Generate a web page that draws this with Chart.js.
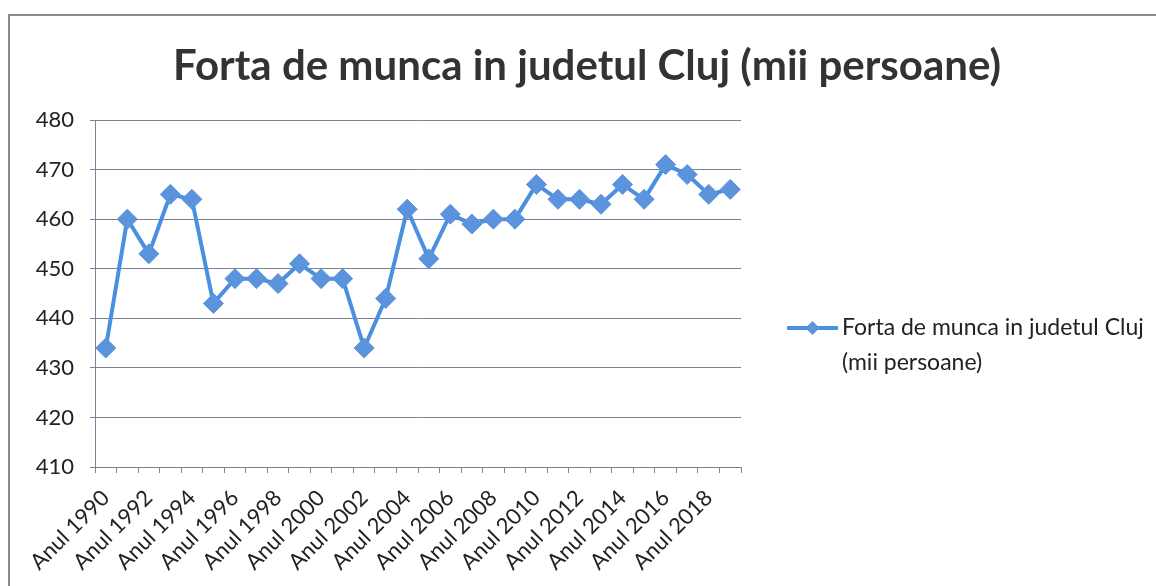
<!DOCTYPE html>
<html>
<head>
<meta charset="utf-8">
<script src="https://cdn.jsdelivr.net/npm/chart.js@4.4.1/dist/chart.umd.min.js"></script>
<style>
  body { margin: 0; background: #fff; }
  #wrap { position: relative; width: 1156px; height: 586px; }
  #frame { position: absolute; left: 8px; top: 14px; right: 0; bottom: 0;
           border-left: 2px solid #8a8a8a; border-top: 2px solid #8a8a8a; }
  canvas { position: absolute; left: 0; top: 0; }
</style>
</head>
<body>
<div id="wrap">
  <div id="frame"></div>
  <canvas id="laborChart" width="1156" height="586"></canvas>
</div>
<script>
const years = [1990, 1991, 1992, 1993, 1994, 1995, 1996, 1997, 1998, 1999,
  2000, 2001, 2002, 2003, 2004, 2005, 2006, 2007, 2008, 2009,
  2010, 2011, 2012, 2013, 2014, 2015, 2016, 2017, 2018, 2019];
const workforce = [434, 460, 453, 465, 464, 443, 448, 448, 447, 451,
  448, 448, 434, 444, 462, 452, 461, 459, 460, 460,
  467, 464, 464, 463, 467, 464, 471, 469, 465, 466];
const seriesName = 'Forta de munca in judetul Cluj (mii persoane)';
const legendLines = ['Forta de munca in judetul Cluj', '(mii persoane)'];
const yMin = 410, yMax = 480, yStep = 10;

const lineColor = '#4a8fe0';
const markerColor = '#5b93dc';
const gridColor = '#7c8196';
const textColor = '#222';

// title centred on the whole picture, not only over the plot area
const pageTitle = {
  id: 'pageTitle',
  afterDraw(chart) {
    const ctx = chart.ctx;
    ctx.save();
    ctx.fillStyle = '#333';
    ctx.font = 'bold 42px Lato';
    ctx.textAlign = 'center';
    ctx.textBaseline = 'middle';
    ctx.fillText(seriesName, 587, 66);
    ctx.restore();
  }
};

// legend drawn by hand so the label can wrap on two lines like the original
const sideLegend = {
  id: 'sideLegend',
  afterDraw(chart) {
    const ctx = chart.ctx;
    const x0 = 787, x1 = 838, y = 328;
    ctx.save();
    ctx.strokeStyle = lineColor;
    ctx.lineWidth = 4;
    ctx.beginPath();
    ctx.moveTo(x0, y);
    ctx.lineTo(x1, y);
    ctx.stroke();
    const cx = (x0 + x1) / 2, r = 7;
    ctx.fillStyle = markerColor;
    ctx.beginPath();
    ctx.moveTo(cx, y - r);
    ctx.lineTo(cx + r, y);
    ctx.lineTo(cx, y + r);
    ctx.lineTo(cx - r, y);
    ctx.closePath();
    ctx.fill();
    ctx.fillStyle = textColor;
    ctx.font = '23px Lato';
    ctx.textBaseline = 'middle';
    legendLines.forEach((line, i) => ctx.fillText(line, 842, y + i * 35));
    ctx.restore();
  }
};

const data = {
  labels: years.map(y => 'Anul ' + y),
  datasets: [{
    label: seriesName,
    data: workforce,
    borderColor: lineColor,
    backgroundColor: markerColor,
    borderWidth: 4,
    pointStyle: 'rectRot',
    pointRadius: 10,
    pointHoverRadius: 10,
    pointBackgroundColor: markerColor,
    pointBorderColor: markerColor,
    pointBorderWidth: 1,
    tension: 0
  }]
};

const options = {
  responsive: false,
  animation: false,
  layout: { padding: { left: 0, right: 415, top: 120, bottom: 0 } },
  plugins: {
    legend: { display: false },
    tooltip: { enabled: false },
    title: { display: false }
  },
  scales: {
    x: {
      offset: true,
      afterFit: scale => { scale.height = 119; },
      grid: { display: true, drawOnChartArea: false, offset: true, color: gridColor, tickLength: 6 },
      border: { color: gridColor, width: 1 },
      ticks: {
        autoSkip: false,
        maxRotation: 45,
        minRotation: 45,
        color: textColor,
        padding: 12,
        font: { family: 'Lato', size: 22 },
        callback: function (val, i) { return i % 2 === 0 ? this.getLabelForValue(val) : ''; }
      }
    },
    y: {
      min: yMin,
      max: yMax,
      afterFit: scale => { scale.width = 95; },
      grid: { color: gridColor, tickLength: 5 },
      border: { color: gridColor, width: 1 },
      ticks: {
        stepSize: yStep,
        color: textColor,
        padding: 16,
        font: { family: 'Lato', size: 22 }
      }
    }
  }
};

new Chart(document.getElementById('laborChart'), {
  type: 'line',
  data,
  options,
  plugins: [pageTitle, sideLegend]
});
</script>
</body>
</html>
